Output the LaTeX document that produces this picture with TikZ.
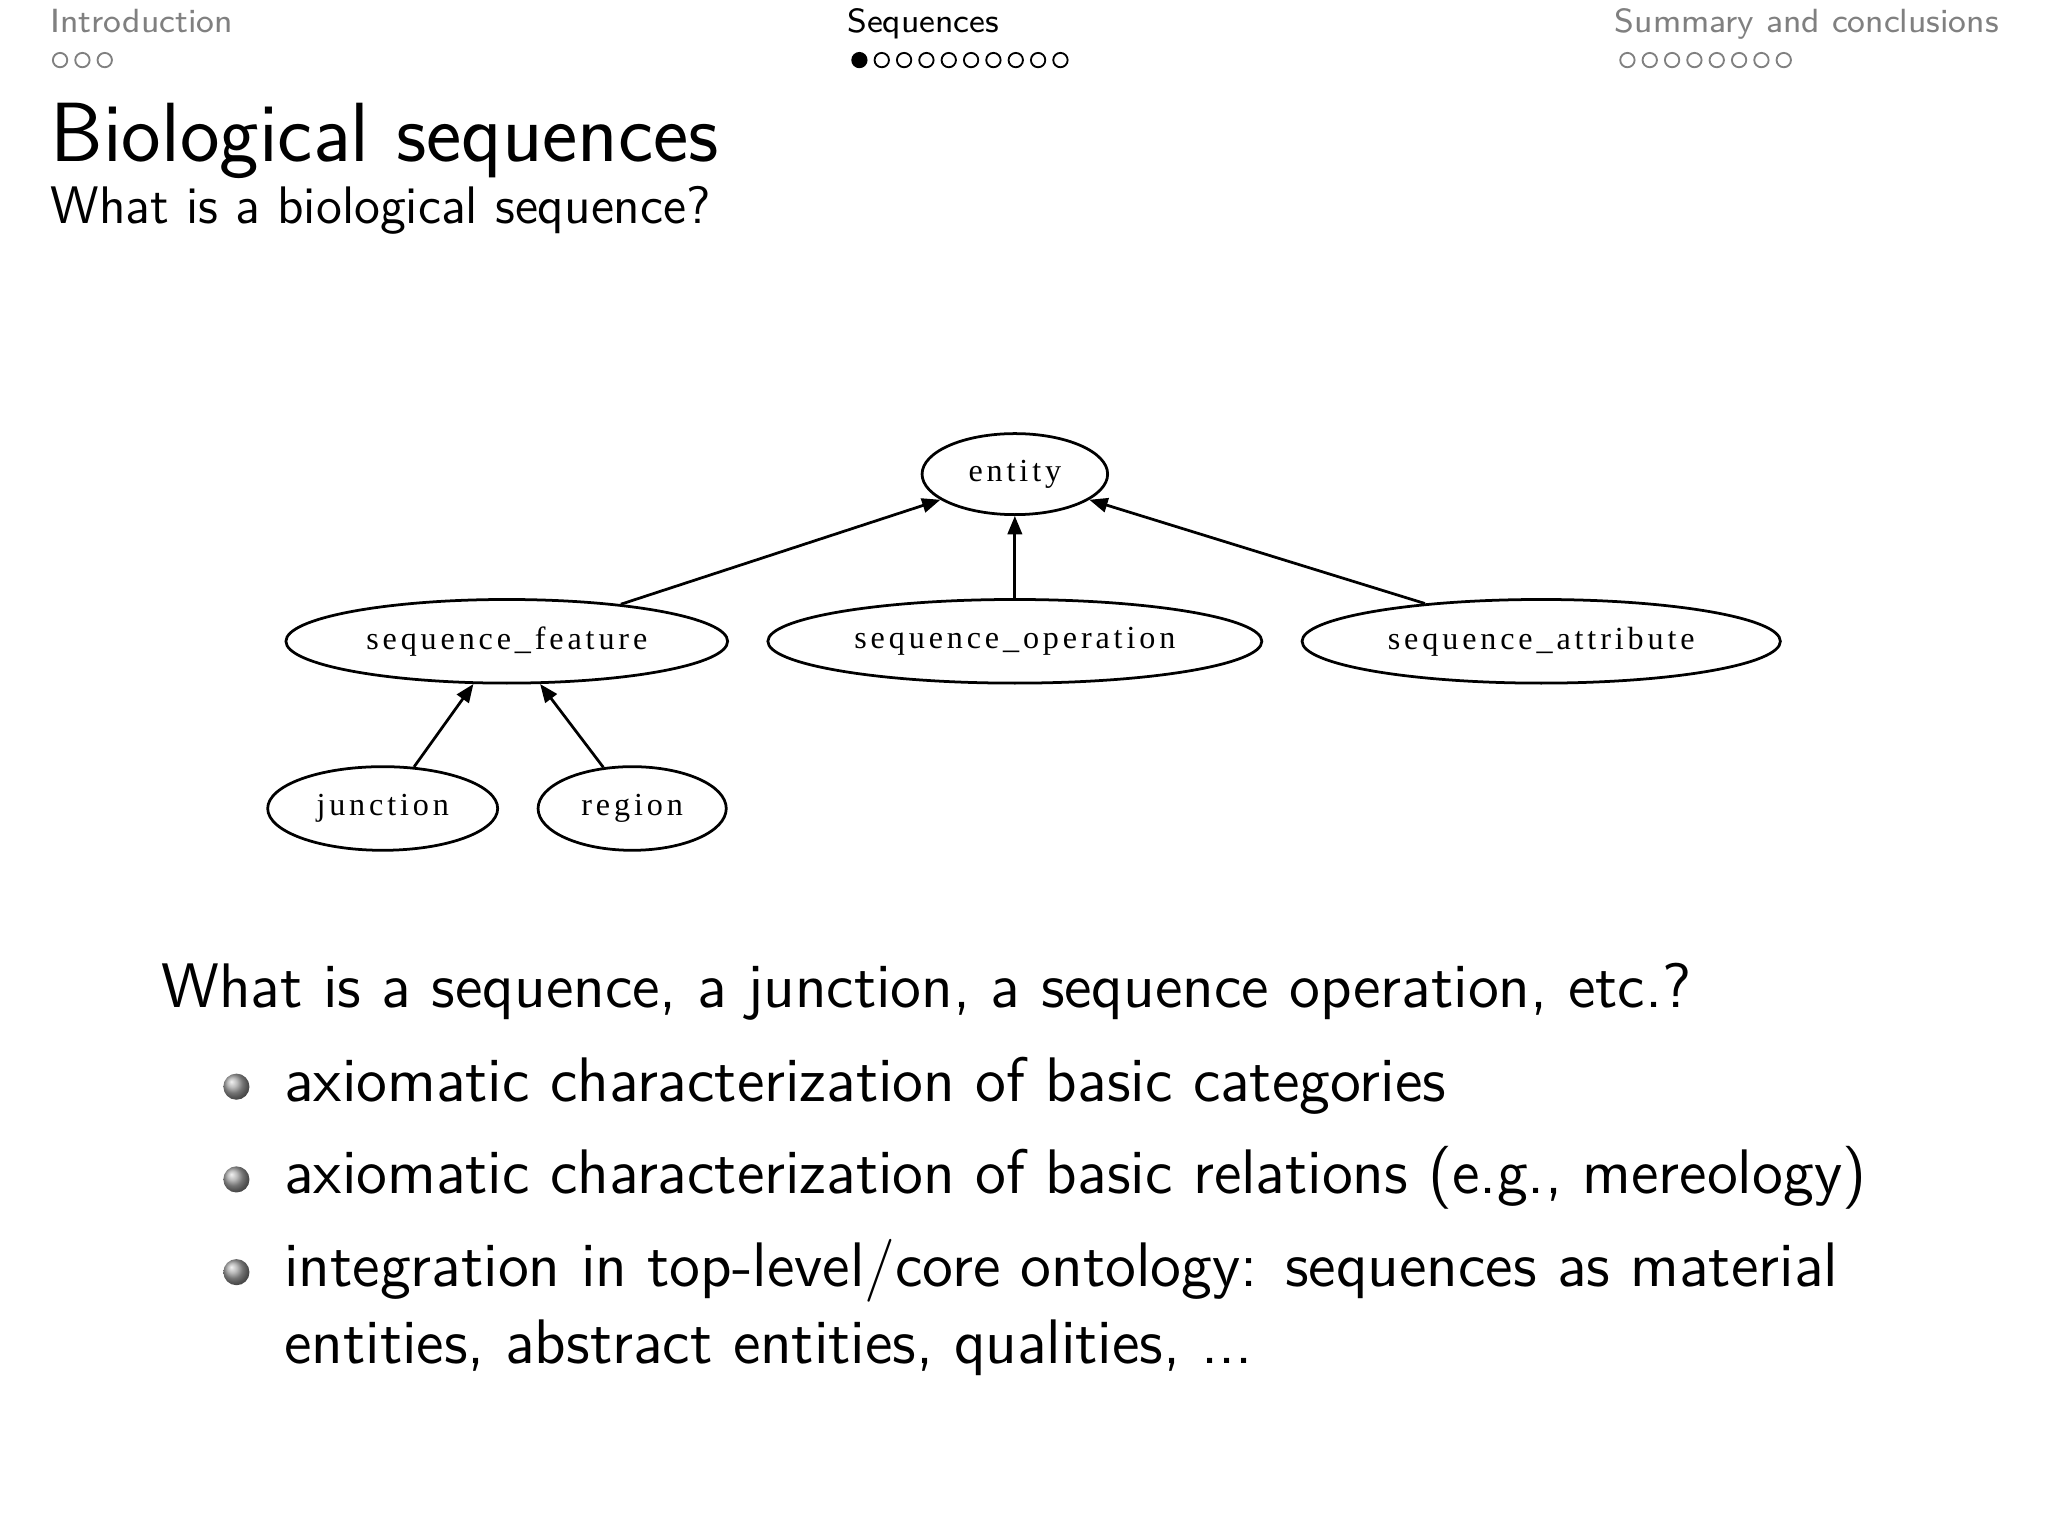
\documentclass[tikz,border=0pt]{standalone}
\usepackage{fontspec}
\usetikzlibrary{shapes.geometric,arrows.meta}
\newfontfamily\gv{Liberation Serif}[LetterSpace=12]
\newcommand{\fsz}[1]{\fontsize{#1}{#1}\selectfont}
\begin{document}
\begin{tikzpicture}[x=0.01cm,y=-0.01cm,
  ell/.style={draw,ellipse,line width=0.6pt,inner sep=0pt,font=\gv\fsz{7pt}},
  edge/.style={line width=0.6pt,-{Triangle[length=0.14cm,width=0.11cm]}},
  hdr/.style={font=\sffamily\fsz{7.3pt},inner sep=0pt,anchor=base west},
  dot/.style={draw,circle,line width=0.4pt,minimum size=0.11cm,inner sep=0pt},
  ball/.style={circle,ball color=gray!70,minimum size=0.2cm,inner sep=0pt},
  body/.style={font=\sffamily\fsz{13.7pt},inner sep=0pt,anchor=base west}]
\useasboundingbox[fill=white] (0,0) rectangle (1568,1176);
% header
\node[hdr,text=gray] (h1) at (38,25) {Introduction};
\node[hdr] (h2) at (648,25) {Sequences};
\node[hdr,text=gray,anchor=base east] (h3) at (1531,25) {Summary and conclusions};
\foreach \i in {0,1,2} \node[dot,draw=gray] (a\i) at (46+\i*17.1,46) {};
\node[dot,fill=black] (b0) at (658,46) {};
\foreach \i in {1,...,9} \node[dot] (b\i) at (658+\i*17.1,46) {};
\foreach \i in {0,...,7} \node[dot,draw=gray] (c\i) at (1246+\i*17.1,46) {};
% title
\node[font=\sffamily\fsz{18.3pt},inner sep=0pt,anchor=base west] (t) at (38,124) {Biological sequences};
\node[font=\sffamily\fsz{11.5pt},inner sep=0pt,anchor=base west] (st) at (38,171) {What is a biological sequence?};
% graph
\node[ell,minimum width=1.42cm,minimum height=0.62cm] (e) at (777,363) {entity};
\node[ell,minimum width=3.38cm,minimum height=0.64cm] (sf) at (388,491) {sequence\_feature};
\node[ell,minimum width=3.78cm,minimum height=0.64cm] (so) at (777,491) {sequence\_operation};
\node[ell,minimum width=3.66cm,minimum height=0.64cm] (sa) at (1180,491) {sequence\_attribute};
\node[ell,minimum width=1.76cm,minimum height=0.64cm] (j) at (293,619) {junction};
\node[ell,minimum width=1.44cm,minimum height=0.64cm] (r) at (484,619) {region};
\draw[edge] (sf.18) -- (e.199);
\draw[edge] (so.north) -- (e.south);
\draw[edge] (sa.162) -- (e.-19);
\draw[edge] (j.53) -- (sf.232);
\draw[edge] (r.125) -- (sf.308);
% text
\node[body] (q) at (123,771) {What is a sequence, a junction, a sequence operation, etc.?};
\node[ball] (p1) at (181,832) {};
\node[ball] (p2) at (181,903) {};
\node[ball] (p3) at (181,974) {};
\node[body] (l1) at (217,843) {axiomatic characterization of basic categories};
\node[body] (l2) at (217,914) {axiomatic characterization of basic relations (e.g., mereology)};
\node[body] (l3) at (217,985) {integration in top-level/core ontology: sequences as material};
\node[body] (l4) at (217,1044) {entities, abstract entities, qualities, ...};
\end{tikzpicture}
\end{document}
